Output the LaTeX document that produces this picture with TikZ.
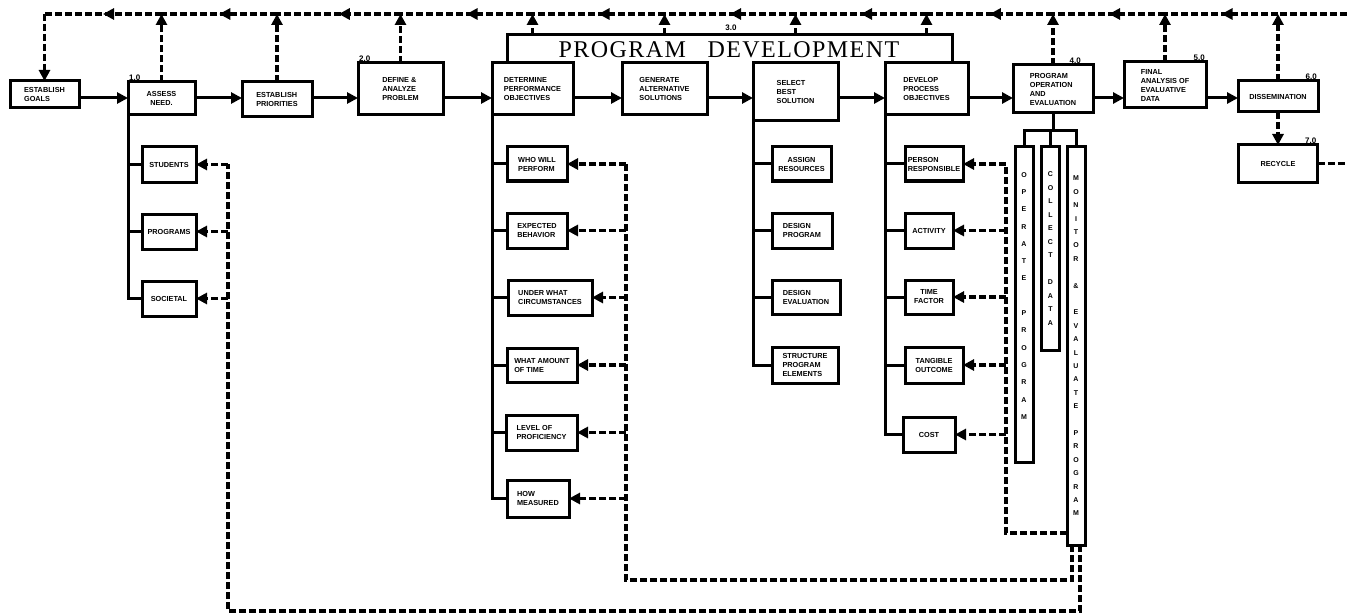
\documentclass[tikz,border=0pt]{standalone}
\usepackage{fontspec}
\setmainfont{Liberation Sans}
\newfontfamily\titlefont[LetterSpace=6]{Liberation Serif}
\usetikzlibrary{positioning,arrows.meta,decorations.markings}

\begin{document}
\begin{tikzpicture}[x=1pt, y=-1pt,
  box/.style={draw=black, line width=3pt, fill=white, inner sep=2pt, outer sep=0pt, align=left, font=\fontsize{7.3}{9}\selectfont\bfseries},
  col/.style={draw=black, line width=3pt, inner sep=0pt, outer sep=0pt, minimum width=18pt, align=center, font=\fontsize{7}{13.4}\selectfont\bfseries},
  num/.style={font=\fontsize{8}{8}\selectfont\bfseries, inner sep=1pt},
  line/.style={draw=black, line width=3pt},
  dsh/.style={draw=black, line width=3.2pt, dash pattern=on 7pt off 3pt},
  arr/.style={-{Triangle[length=11pt,width=11pt]}},
  midarr/.style={postaction={decorate}, decoration={markings, mark=at position 0.5 with {\arrow{Triangle[length=11pt,width=11pt]}}}}]
\useasboundingbox (0,0) rectangle (1347,615);
\coordinate (top) at (0,14);
\coordinate (pd) at (0,35);
\coordinate (row) at (0,98);
\coordinate (edge) at (1347,0);
% main row
\node[box, minimum width=69pt, minimum height=27pt] (goals) at (44.5,94.5) {ESTABLISH\\GOALS};
\node[box, align=center, minimum width=67pt, minimum height=33pt] (assess) at (161.5,98.5) {ASSESS\\NEED.};
\node[box, minimum width=70pt, minimum height=35pt] (prio) at (277,99.5) {ESTABLISH\\PRIORITIES};
\node[box, minimum width=85pt, minimum height=52pt] (define) at (400.5,89) {DEFINE \&\\ANALYZE\\PROBLEM};
\node[box, minimum width=81pt, minimum height=52pt] (det) at (532.5,89) {DETERMINE\\PERFORMANCE\\OBJECTIVES};
\node[box, minimum width=85pt, minimum height=52pt] (gen) at (664.5,89) {GENERATE\\ALTERNATIVE\\SOLUTIONS};
\node[box, minimum width=85pt, minimum height=58pt] (sel) at (795.5,92) {SELECT\\BEST\\SOLUTION};
\node[box, minimum width=83pt, minimum height=52pt] (dev) at (926.5,89) {DEVELOP\\PROCESS\\OBJECTIVES};
\node[box, minimum width=80pt, minimum height=48pt] (pop) at (1053,89) {PROGRAM\\OPERATION\\AND\\EVALUATION};
\node[box, minimum width=82pt, minimum height=46pt] (fin) at (1165,85) {FINAL\\ANALYSIS OF\\EVALUATIVE\\DATA};
\node[box, align=center, minimum width=80pt, minimum height=31pt] (dis) at (1278,96.5) {DISSEMINATION};
\node[box, align=center, minimum width=79pt, minimum height=37pt] (rec) at (1278,163.5) {RECYCLE};
% numbers
\node[num, anchor=south west] (n1) at (assess.north west) {1.0};
\node[num, anchor=south west] (n2) at (define.north west) {2.0};
\node[num] (n3) at (731,28) {3.0};
\node[num, anchor=south east] (n4) at ([xshift=-11pt]pop.north east) {4.0};
\node[num, anchor=south east] (n5) at (fin.north east) {5.0};
\node[num, anchor=south east] (n6) at (dis.north east) {6.0};
\node[num, anchor=south east] (n7) at (rec.north east) {7.0};
% sub boxes
\node[box, minimum width=54pt, minimum height=35pt] (stu) at (169,164.5) {STUDENTS};
\node[box, minimum width=54pt, minimum height=35pt] (prg) at (169,231.5) {PROGRAMS};
\node[box, minimum width=54pt, minimum height=35pt] (soc) at (169,298.5) {SOCIETAL};
\node[box, minimum width=60pt, minimum height=34pt] (wp) at (537,164) {WHO WILL\\PERFORM};
\node[box, minimum width=60pt, minimum height=35pt] (eb) at (537,230.5) {EXPECTED\\BEHAVIOR};
\node[box, minimum width=84pt, minimum height=35pt] (uw) at (550,297.5) {UNDER WHAT\\CIRCUMSTANCES};
\node[box, minimum width=70pt, minimum height=34pt] (wa) at (542,365) {WHAT AMOUNT\\OF TIME};
\node[box, minimum width=71pt, minimum height=35pt] (lp) at (541.5,432.5) {LEVEL OF\\PROFICIENCY};
\node[box, minimum width=62pt, minimum height=37pt] (hm) at (538,498.5) {HOW\\MEASURED};
\node[box, align=center, minimum width=59pt, minimum height=34pt] (ar) at (801.5,164) {ASSIGN\\RESOURCES};
\node[box, minimum width=60pt, minimum height=35pt] (dp) at (802,230.5) {DESIGN\\PROGRAM};
\node[box, minimum width=68pt, minimum height=34pt] (de) at (806,297) {DESIGN\\EVALUATION};
\node[box, minimum width=66pt, minimum height=36pt] (sp) at (805,365) {STRUCTURE\\PROGRAM\\ELEMENTS};
\node[box, minimum width=58pt, minimum height=34pt] (pr) at (934,164) {PERSON\\RESPONSIBLE};
\node[box, align=center, minimum width=48pt, minimum height=35pt] (ac) at (929,230.5) {ACTIVITY};
\node[box, align=center, minimum width=48pt, minimum height=34pt] (tf) at (929,297) {TIME\\FACTOR};
\node[box, align=center, minimum width=58pt, minimum height=36pt] (to) at (934,365) {TANGIBLE\\OUTCOME};
\node[box, align=center, minimum width=52pt, minimum height=35pt] (co) at (929,434.5) {COST};
% columns
\node[col, minimum height=315pt, font=\fontsize{7}{17.3}\selectfont\bfseries] (op) at (1024,304.5) {O\\P\\E\\R\\A\\T\\E\\~\\P\\R\\O\\G\\R\\A\\M\\~};
\node[col, minimum height=203pt, font=\fontsize{7}{13.5}\selectfont\bfseries] (cd) at (1050.5,248.5) {C\\O\\L\\L\\E\\C\\T\\~\\D\\A\\T\\A};
\node[col, minimum height=398pt] (mon) at (1076,346) {M\\O\\N\\I\\T\\O\\R\\~\\\&\\~\\E\\V\\A\\L\\U\\A\\T\\E\\~\\P\\R\\O\\G\\R\\A\\M};
% program development bracket
\coordinate (pdL) at ([xshift=15pt]det.north west);
\coordinate (pdR) at ([xshift=-16pt]dev.north east);
\draw[line] (pdL) -- (pdL |- pd) -| (pdR);
\node[font=\titlefont\fontsize{24}{24}\selectfont, inner sep=0pt] (pdtitle) at (729,50) {PROGRAM\hspace{0.9em}DEVELOPMENT};
% solid connectors
\foreach \u/\v in {goals/assess, assess/prio, prio/define, define/det, det/gen, gen/sel, sel/dev, dev/pop, pop/fin, fin/dis}
  \draw[line,arr] (\u.east |- row) -- (\v.west |- row);
\foreach \v in {stu,prg,soc} \draw[line] (assess.south west) |- (\v.west);
\foreach \v in {wp,eb,uw,wa,lp,hm} \draw[line] (det.south west) |- (\v.west);
\foreach \v in {ar,dp,de,sp} \draw[line] (sel.south west) |- (\v.west);
\foreach \v in {pr,ac,tf,to,co} \draw[line] (dev.south west) |- (\v.west);
\foreach \v in {op,cd,mon} \draw[line] (pop.south) -- ++(0,18) -| (\v.north);
% feedback line along the top
\foreach \a/\b in {dis/fin, fin/pop, pop/dev, dev/sel, sel/gen, gen/det, det/define, define/prio, prio/assess, assess/goals}
  \draw[dsh,midarr] (\a |- top) -- (\b |- top);
\draw[dsh] (edge |- top) -- (dis |- top);
\draw[dsh,arr] (goals |- top) -- (goals);
\foreach \v in {assess,prio,define,pop,fin,dis} \draw[dsh,arr] (\v) -- (\v |- top);
\foreach \v in {det,gen,sel,dev} \draw[dsh,arr] (\v |- pd) -- (\v |- top);
\draw[dsh,arr] (dis.south) -- (dis.south |- rec.north);
\draw[dsh] (rec.east) -- (rec.east -| edge);
% feedback loops from monitoring
\coordinate (lpA) at (228,611);
\coordinate (lpB) at (626,580);
\coordinate (lpC) at (1006,533);
\draw[dsh] ([xshift=4pt]mon.south) |- (lpA) -- (lpA |- stu.east);
\draw[dsh] ([xshift=-4pt]mon.south) |- (lpB) -- (lpB |- wp.east);
\draw[dsh] (mon.west |- lpC) -- (lpC) -- (lpC |- pr.east);
\foreach \v in {stu,prg,soc} \draw[dsh,arr] (lpA |- \v.east) -- (\v.east);
\foreach \v in {wp,eb,uw,wa,lp,hm} \draw[dsh,arr] (lpB |- \v.east) -- (\v.east);
\foreach \v in {pr,ac,tf,to,co} \draw[dsh,arr] (lpC |- \v.east) -- (\v.east);
\end{tikzpicture}
\end{document}
